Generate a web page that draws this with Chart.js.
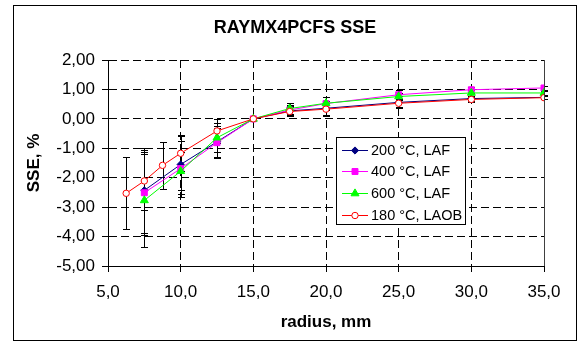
<!DOCTYPE html>
<html><head><meta charset="utf-8">
<script src="https://cdn.jsdelivr.net/npm/chart.js@4.4.1/dist/chart.umd.min.js"></script>
<style>html,body{margin:0;padding:0;background:#fff}#wrap{width:582px;height:344px;position:relative}</style>
</head><body><div id="wrap"><canvas id="c" width="582" height="344"></canvas></div>
<script>
const chartTitle = 'RAYMX4PCFS SSE';
const xTitle = 'radius, mm';
const yTitle = 'SSE, %';
const xTickValues = [5, 10, 15, 20, 25, 30, 35];
const xTickLabels = ['5,0', '10,0', '15,0', '20,0', '25,0', '30,0', '35,0'];
const yTickValues = [-5, -4, -3, -2, -1, 0, 1, 2];
const yTickLabels = ['-5,00', '-4,00', '-3,00', '-2,00', '-1,00', '0,00', '1,00', '2,00'];
const seriesNames = ['200 °C, LAF', '400 °C, LAF', '600 °C, LAF', '180 °C, LAOB'];

const radiusLAF  = [7.5, 10, 12.5, 15, 17.5, 20, 25, 30, 35];
const radiusLAOB = [6.25, 7.5, 8.75, 10, 12.5, 15, 17.5, 20, 25, 30, 35];

const sse200 = [-2.43, -1.55, -0.78, 0, 0.27, 0.36, 0.56, 0.69, 0.73];
const err200 = [1.45, 1.0, 0.55, 0, 0.18, 0.25, 0.2, 0.1, 0.05];
const sse400 = [-2.51, -1.69, -0.81, 0, 0.3, 0.52, 0.82, 0.99, 1.05];
const err400 = [1.45, 0.95, 0.5, 0, 0.18, 0.22, 0.15, 0.1, 0.06];
const sse600 = [-2.77, -1.78, -0.64, 0, 0.35, 0.53, 0.76, 0.88, 0.88];
const err600 = [1.57, 0.65, 0.5, 0, 0.2, 0.2, 0.12, 0.1, 0.06];
const sse180 = [-2.53, -2.11, -1.58, -1.17, -0.41, 0, 0.25, 0.33, 0.53, 0.66, 0.72];
const err180 = [1.22, 1.0, 0.79, 0.6, 0.4, 0, 0.15, 0.2, 0.12, 0.08, 0.05];

const colors = ['#000080', '#FF00FF', '#00FF00', '#FF0000'];
const FONT = "'Liberation Sans', Arial, sans-serif";

function pts(xs, ys) { return xs.map((x, i) => ({x: x, y: ys[i]})); }

const seriesX = [radiusLAF, radiusLAF, radiusLAF, radiusLAOB];
const seriesY = [sse200, sse400, sse600, sse180];
const seriesErr = [err200, err400, err600, err180];
const styles = [
  {pointStyle: 'rectRot', radius: 3.6, fill: colors[0]},
  {pointStyle: 'rect', radius: 4.2, fill: colors[1]},
  {pointStyle: 'triangle', radius: 4.6, fill: colors[2]},
  {pointStyle: 'circle', radius: 3.2, fill: '#FFFFFF'}
];

const datasets = seriesNames.map((name, k) => ({
  label: name,
  data: pts(seriesX[k], seriesY[k]),
  showLine: true,
  tension: 0,
  borderColor: colors[k],
  backgroundColor: styles[k].fill,
  borderWidth: 1,
  pointStyle: styles[k].pointStyle,
  pointRadius: styles[k].radius,
  pointHoverRadius: styles[k].radius,
  pointBorderColor: colors[k],
  pointBackgroundColor: styles[k].fill,
  pointBorderWidth: 1,
  order: 3 - k
}));

const framePlugin = {
  id: 'frame',
  beforeDraw(chart) {
    const ctx = chart.ctx;
    ctx.save();
    ctx.fillStyle = '#fff';
    ctx.fillRect(0, 0, chart.width, chart.height);
    ctx.restore();
  },
  afterLayout(chart) {
    if (chart.titleBlock) { chart.titleBlock.left = 13; chart.titleBlock.right = 577; }
  },
  afterDraw(chart) {
    const ctx = chart.ctx;
    const a = chart.chartArea;
    ctx.save();
    ctx.strokeStyle = '#000';
    ctx.lineWidth = 1;
    ctx.strokeRect(13.5, 5.5, 563, 335);
    ctx.strokeStyle = '#404040';
    ctx.beginPath();
    ctx.moveTo(Math.round(a.right) + 0.5, a.top);
    ctx.lineTo(Math.round(a.right) + 0.5, a.bottom);
    ctx.stroke();
    ctx.restore();
  }
};

const errorBarPlugin = {
  id: 'errorBars',
  beforeDatasetsDraw(chart) {
    const ctx = chart.ctx;
    const xs = chart.scales.x, ys = chart.scales.y;
    ctx.save();
    ctx.strokeStyle = '#000';
    ctx.lineWidth = 1;
    for (let k = 0; k < seriesX.length; k++) {
      for (let i = 0; i < seriesX[k].length; i++) {
        const e = seriesErr[k][i];
        if (!e) continue;
        const px = Math.round(xs.getPixelForValue(seriesX[k][i])) + 0.5;
        const pt = Math.round(ys.getPixelForValue(seriesY[k][i] + e)) + 0.5;
        const pb = Math.round(ys.getPixelForValue(seriesY[k][i] - e)) + 0.5;
        ctx.beginPath();
        ctx.moveTo(px, pt); ctx.lineTo(px, pb);
        ctx.moveTo(px - 3.5, pt); ctx.lineTo(px + 3.5, pt);
        ctx.moveTo(px - 3.5, pb); ctx.lineTo(px + 3.5, pb);
        ctx.stroke();
      }
    }
    ctx.restore();
  }
};

const legendPlugin = {
  id: 'boxLegend',
  afterDraw(chart) {
    const ctx = chart.ctx;
    const bx = 336, by = 137, bw = 129, bh = 87;
    ctx.save();
    ctx.fillStyle = '#fff';
    ctx.fillRect(bx, by, bw, bh);
    ctx.strokeStyle = '#000';
    ctx.lineWidth = 1;
    ctx.strokeRect(bx + 0.5, by + 0.5, bw, bh);
    ctx.font = '14.5px ' + FONT;
    ctx.textBaseline = 'middle';
    ctx.textAlign = 'left';
    chart.data.datasets.forEach((ds, k) => {
      const y = by + 12.5 + k * 21.7;
      const yl = Math.round(y) + 0.5;
      ctx.strokeStyle = ds.borderColor;
      ctx.lineWidth = 1;
      ctx.beginPath();
      ctx.moveTo(bx + 6, yl); ctx.lineTo(bx + 32, yl);
      ctx.stroke();
      ctx.fillStyle = ds.pointBackgroundColor;
      ctx.strokeStyle = ds.pointBorderColor;
      if (Chart.helpers && Chart.helpers.drawPoint) {
        Chart.helpers.drawPoint(ctx, {pointStyle: ds.pointStyle, radius: ds.pointRadius, rotation: 0, borderWidth: 1}, bx + 19, yl);
      }
      ctx.fillStyle = '#000';
      ctx.fillText(ds.label, bx + 35, y + 1);
    });
    ctx.restore();
  }
};

new Chart(document.getElementById('c'), {
  type: 'scatter',
  data: {datasets: datasets},
  options: {
    responsive: false,
    animation: false,
    devicePixelRatio: 1,
    layout: {padding: {top: 5, left: 20, right: 38, bottom: 5}},
    plugins: {
      legend: {display: false},
      tooltip: {enabled: false},
      title: {
        display: true, text: chartTitle, color: '#000',
        font: {family: FONT, size: 18, weight: 'bold'},
        padding: {top: 12, bottom: 21.4}
      }
    },
    scales: {
      x: {
        type: 'linear', min: 5, max: 35,
        afterBuildTicks: s => { s.ticks = xTickValues.map(v => ({value: v})); },
        afterFit: s => { s.height = 73; },
        ticks: {
          callback: v => xTickLabels[xTickValues.indexOf(v)],
          color: '#000', font: {family: FONT, size: 17}, padding: 10,
          maxRotation: 0, autoSkip: false
        },
        grid: {color: '#000', lineWidth: 1, tickLength: 6, tickColor: '#000', drawTicks: true},
        border: {display: true, color: '#000', width: 1, dash: [8, 4]},
        title: {display: true, text: xTitle, color: '#000', font: {family: FONT, size: 17, weight: 'bold'}, padding: {top: 0, bottom: 6}}
      },
      y: {
        type: 'linear', min: -5, max: 2,
        afterBuildTicks: s => { s.ticks = yTickValues.map(v => ({value: v})); },
        afterFit: s => { s.width = 88; },
        ticks: {
          callback: v => yTickLabels[yTickValues.indexOf(v)],
          color: '#000', font: {family: FONT, size: 17}, padding: 7
        },
        grid: {color: '#000', lineWidth: 1, tickLength: 6, tickColor: '#000', drawTicks: true},
        border: {display: true, color: '#000', width: 1, dash: [8, 4]},
        title: {display: true, text: yTitle, color: '#000', font: {family: FONT, size: 17, weight: 'bold'}, padding: {top: 4, bottom: 0}}
      }
    }
  },
  plugins: [framePlugin, errorBarPlugin, legendPlugin]
});
</script>
</body></html>
